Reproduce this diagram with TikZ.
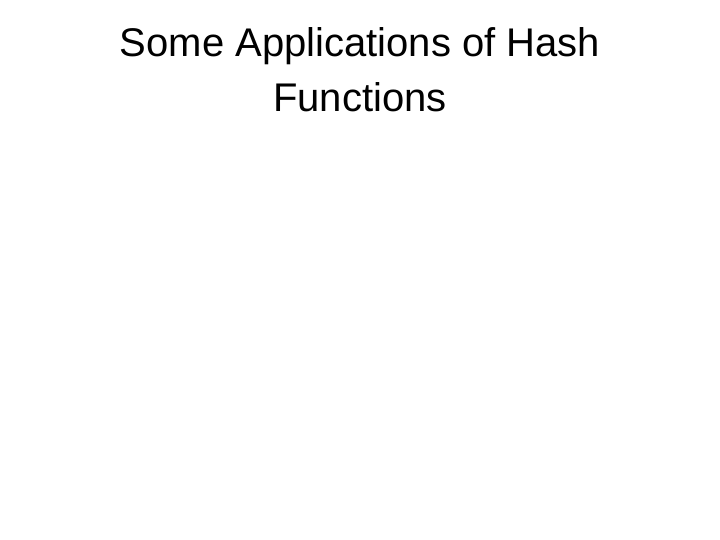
\documentclass[tikz,border=0pt]{standalone}
\usepackage{fontspec}
\setmainfont{Liberation Sans}
\begin{document}
\begin{tikzpicture}[x=1pt,y=1pt,titlestyle/.style={align=center,font=\fontsize{40}{55}\selectfont,inner sep=0pt}]
\useasboundingbox[fill=white] (0,0) rectangle (720,-540);
\node[titlestyle,anchor=base] (t1) at (360,-57) {Some Applications of Hash};
\node[titlestyle,anchor=base] (t2) at (360,-112) {Functions};
\end{tikzpicture}
\end{document}
